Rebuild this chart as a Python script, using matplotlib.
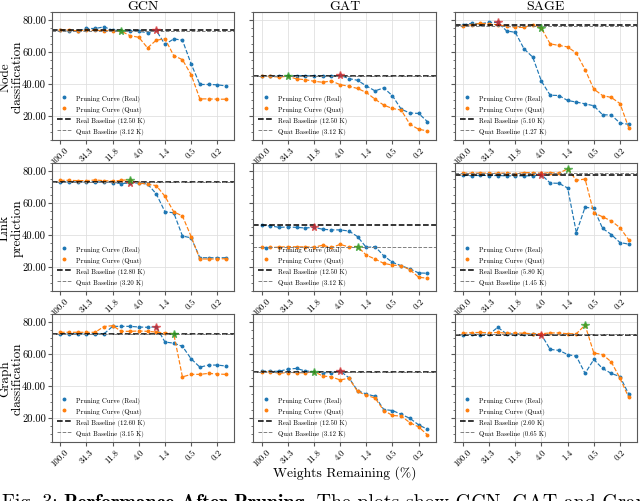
import matplotlib
matplotlib.use("Agg")
import matplotlib.pyplot as plt
from matplotlib.lines import Line2D
from matplotlib.ticker import FormatStrFormatter, AutoMinorLocator, FixedLocator

plt.rcParams['font.family'] = ['cmr10', 'DejaVu Serif']
plt.rcParams['axes.formatter.use_mathtext'] = True
plt.rcParams['axes.unicode_minus'] = False

models = ["GCN", "GAT", "SAGE"]
tasks = ["Node\nclassification", "Link\nprediction", "Graph\nclassification"]
tick_labels = ["100.0", "34.3", "11.8", "4.0", "1.4", "0.5", "0.2"]
tick_idx = [0, 3, 6, 9, 12, 15, 18]
n_points = 20

# rows: node, link, graph ; cols: GCN, GAT, SAGE
real_curves = [
    [[73.3, 73.0, 72.8, 74.5, 74.5, 75.5, 73.5, 73.0, 73.0, 72.8, 71.8, 73.3, 64.5, 68.0, 67.2, 52.3, 39.5, 39.5, 39.3, 38.6],
     [45.0, 44.8, 44.5, 44.6, 45.0, 45.0, 44.8, 44.5, 44.8, 45.2, 43.2, 42.1, 38.6, 35.5, 37.4, 32.4, 24.0, 21.7, 21.4, 16.3],
     [76.9, 77.7, 77.5, 78.3, 78.3, 73.0, 72.1, 61.8, 56.6, 41.5, 32.8, 32.6, 29.5, 28.5, 27.4, 26.2, 20.6, 20.4, 15.4, 14.6]],
    [[73.0, 73.0, 73.0, 73.0, 73.0, 73.0, 72.5, 72.0, 72.3, 72.3, 71.7, 65.5, 54.3, 53.7, 39.2, 38.0, 25.6, 25.6, 25.6, 25.6],
     [45.9, 45.5, 44.6, 44.8, 44.6, 44.2, 44.6, 43.4, 43.0, 43.0, 42.3, 38.8, 32.0, 32.6, 26.8, 22.7, 20.6, 18.6, 16.1, 15.9],
     [77.1, 76.9, 77.1, 77.0, 77.0, 76.8, 76.8, 76.8, 76.8, 77.5, 72.3, 72.1, 69.2, 41.3, 57.2, 56.4, 44.0, 40.1, 35.1, 34.1]],
    [[72.4, 72.4, 72.4, 72.4, 72.4, 72.4, 77.1, 77.1, 77.1, 76.7, 76.5, 76.8, 67.3, 66.6, 64.6, 56.8, 51.6, 52.9, 52.9, 52.3],
     [49.2, 49.0, 49.0, 50.4, 50.8, 49.2, 48.8, 48.2, 48.2, 49.2, 45.0, 36.9, 34.8, 33.4, 25.1, 24.5, 22.1, 19.6, 15.5, 12.8],
     [71.8, 72.2, 72.0, 72.2, 76.5, 72.4, 72.4, 72.4, 72.2, 71.8, 62.7, 62.1, 59.5, 58.4, 47.7, 56.4, 50.8, 47.7, 45.7, 34.8]],
]
quat_curves = [
    [[73.8, 73.5, 73.0, 73.5, 73.3, 73.2, 73.0, 72.8, 70.0, 69.0, 62.4, 67.2, 68.0, 57.6, 55.0, 45.6, 30.5, 30.5, 30.3, 30.3],
     [45.0, 44.5, 44.2, 44.6, 43.0, 42.5, 41.5, 40.9, 41.7, 39.4, 38.4, 37.0, 34.5, 30.3, 26.6, 24.5, 23.5, 14.6, 11.5, 10.5],
     [75.9, 76.9, 77.7, 77.3, 76.9, 75.9, 75.2, 75.2, 76.9, 74.6, 64.9, 63.9, 63.0, 59.1, 48.8, 36.6, 32.6, 31.4, 27.6, 12.5]],
    [[74.0, 74.0, 73.8, 73.8, 74.2, 73.8, 73.5, 74.0, 74.4, 72.5, 71.5, 70.7, 64.0, 54.3, 51.7, 38.8, 24.8, 24.8, 24.8, 25.0],
     [32.0, 32.0, 32.2, 32.6, 32.4, 32.4, 32.2, 33.4, 32.0, 33.9, 32.4, 32.6, 27.2, 24.8, 22.1, 21.0, 20.6, 18.1, 13.4, 12.8],
     [78.6, 78.4, 78.6, 78.4, 78.4, 78.6, 78.2, 78.8, 78.8, 78.4, 78.8, 78.4, 81.2, 74.0, 74.8, 53.7, 51.2, 48.6, 44.4, 36.8]],
    [[73.4, 73.4, 73.4, 73.4, 73.4, 77.0, 77.5, 74.0, 74.0, 74.2, 74.0, 73.5, 73.0, 72.5, 45.5, 47.1, 47.1, 47.7, 47.3, 47.1],
     [48.8, 48.8, 47.8, 48.2, 48.2, 48.0, 48.8, 46.1, 45.5, 43.6, 44.7, 36.4, 34.0, 32.3, 24.5, 21.4, 21.0, 16.9, 14.2, 9.3],
     [72.8, 73.2, 73.3, 73.0, 73.3, 72.8, 73.0, 72.8, 72.5, 72.5, 73.0, 73.0, 72.5, 72.5, 77.9, 60.5, 59.5, 54.9, 44.7, 32.7]],
]
real_baseline = [[73.3, 44.8, 76.7], [73.2, 45.8, 77.1], [72.6, 48.8, 72.0]]
quat_baseline = [[72.8, 44.6, 76.0], [72.8, 32.4, 78.6], [72.4, 48.8, 72.6]]
real_params = [["12.50", "12.50", "5.10"], ["12.80", "12.50", "5.80"], ["12.60", "12.50", "2.60"]]
quat_params = [["3.12", "3.12", "1.27"], ["3.20", "3.12", "1.45"], ["3.15", "3.12", "0.65"]]
real_star = [[11, 9, 4], [8, 6, 9], [11, 9, 9]]
quat_star = [[7, 3, 9], [8, 11, 12], [13, 6, 14]]

W, H = 640, 502
fig, axes = plt.subplots(3, 3, figsize=(W / 100, H / 100), dpi=100, sharey=True)
fig.subplots_adjust(left=52 / W, right=637 / W, top=1 - 12.7 / H, bottom=1 - 442.7 / H,
                    wspace=0.104, hspace=0.18)

blue, orange = 'tab:blue', 'tab:orange'
x = list(range(n_points))
for r in range(3):
    for c in range(3):
        ax = axes[r][c]
        yr = real_curves[r][c]
        yq = quat_curves[r][c]
        ax.grid(True, color='0.88', linewidth=0.6)
        ax.set_axisbelow(True)
        ax.plot(x, yr, linestyle='--', color=blue, linewidth=0.85, marker='.', markersize=3.6)
        ax.plot(x, yq, linestyle='--', color=orange, linewidth=0.85, marker='.', markersize=3.6)
        ax.axhline(real_baseline[r][c], color='black', linestyle='--', linewidth=1.1)
        ax.axhline(quat_baseline[r][c], color='gray', linestyle='--', linewidth=0.7)
        ir = real_star[r][c]
        iq = quat_star[r][c]
        ax.plot([ir], [yr[ir]], marker='*', color='tab:red', markersize=5.5, alpha=0.65, linestyle='none')
        ax.plot([iq], [yq[iq]], marker='*', color='tab:green', markersize=5.5, alpha=0.7, linestyle='none')
        ax.set_ylim(5, 85)
        ax.yaxis.set_major_locator(FixedLocator([20, 40, 60, 80]))
        ax.yaxis.set_major_formatter(FormatStrFormatter('%.2f'))
        ax.yaxis.set_minor_locator(AutoMinorLocator(4))
        ax.set_xticks(tick_idx)
        ax.set_xticklabels(tick_labels, rotation=45, fontsize=6.4)
        ax.tick_params(axis='y', labelsize=7.6, pad=1.5, length=2.8)
        ax.tick_params(axis='y', which='minor', length=1.6)
        ax.tick_params(axis='x', pad=1.0, length=2.8)
        ax.tick_params(which='both', color='0.35')
        for s in ax.spines.values():
            s.set_color('0.35')
            s.set_linewidth(0.8)
        handles = [
            Line2D([], [], color=blue, marker='.', linestyle='none', markersize=3.6),
            Line2D([], [], color=orange, marker='.', linestyle='none', markersize=3.6),
            Line2D([], [], color='black', linestyle='--', linewidth=1.1),
            Line2D([], [], color='gray', linestyle='--', linewidth=0.7),
        ]
        labels = ["Pruning Curve (Real)", "Pruning Curve (Quat)",
                  f"Real Baseline ({real_params[r][c]} K)",
                  f"Quat Baseline ({quat_params[r][c]} K)"]
        ax.legend(handles, labels, loc='lower left', frameon=False, fontsize=4.8,
                  labelspacing=0.6, handlelength=2.2, handletextpad=0.7, borderaxespad=0.35)
        if r == 0:
            ax.set_title(models[c], fontsize=10, pad=2)
        if c == 0:
            ax.set_ylabel(tasks[r], fontsize=9.5, linespacing=0.95)
            ax.yaxis.set_label_coords(-0.158, 0.5)

axes[2][1].set_xlabel("Weights Remaining (%)", fontsize=9.8)
axes[2][1].xaxis.set_label_coords(0.5, -0.185)

# caption (cut off at the bottom of the image)
cap_size = 14.3
renderer = fig.canvas.get_renderer()
xpos = 2 / W
ybase = -6.0 / H
for txt, fam in [("Fig. 3: ", 'cmr10'), ("Performance After Pruning.", 'cmb10'),
                 (" The plots show GCN, GAT and Graph", 'cmr10')]:
    t = fig.text(xpos, ybase, txt, fontsize=cap_size, family=[fam, 'DejaVu Serif'], va='baseline', ha='left')
    bb = t.get_window_extent(renderer=renderer)
    xpos = xpos + bb.width / (W)

fig.savefig("out.png", dpi=100)
